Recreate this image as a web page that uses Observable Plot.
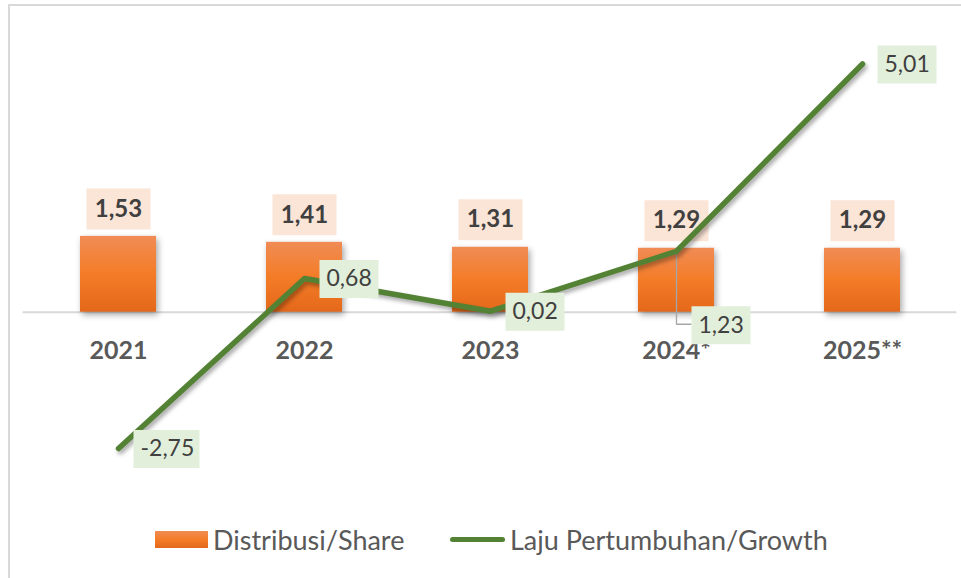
<!DOCTYPE html>
<html>
<head>
<meta charset="utf-8">
<script src="https://cdn.jsdelivr.net/npm/d3@7"></script>
<script src="https://cdn.jsdelivr.net/npm/@observablehq/plot@0.6"></script>
<style>
  body { margin: 0; background: #fff; }
  #wrap { position: relative; width: 961px; height: 578px; overflow: hidden; font-family: Lato, "Open Sans", sans-serif; background: #fff; }
  #frame { position: absolute; left: 8px; top: 4px; width: 1000px; height: 1000px; border-left: 2px solid #d9d9d9; border-top: 2px solid #d9d9d9; }
  #chart { position: absolute; left: 0; top: 0; }
  #chart g[aria-label="bar"] { filter: drop-shadow(2px 3px 3px rgba(0,0,0,0.35)); }
  #chart g[aria-label="line"] { filter: drop-shadow(2px 3px 2px rgba(0,0,0,0.35)); }
  .leg { position: absolute; display: flex; align-items: center; color: #595959; font-size: 27px; line-height: 1; white-space: nowrap; }
  .sw-bar { width: 53px; height: 17px; background: linear-gradient(#f08c55, #f47c27 50%, #e4681a); margin-right: 5px; }
  .sw-line { width: 55px; height: 5px; border-radius: 3px; background: #548235; margin-right: 5px; }
</style>
</head>
<body>
<div id="wrap">
  <div id="frame"></div>
  <div id="chart"></div>
  <div class="leg" id="leg1" style="left:155px; top:525px; height:29px;"><span class="sw-bar"></span><span>Distribusi/Share</span></div>
  <div class="leg" id="leg2" style="left:450px; top:525px; height:29px;"><span class="sw-line"></span><span>Laju Pertumbuhan/Growth</span></div>
</div>
<script>
const years = ["2021", "2022", "2023", "2024*", "2025**"];
const shareValues = [1.53, 1.41, 1.31, 1.29, 1.29];
const growthValues = [-2.75, 0.68, 0.02, 1.23, 5.01];
const leaderYear = "2024*";

const shareData = years.map((year, i) => ({year, value: shareValues[i]}));
const growthData = years.map((year, i) => ({year, value: growthValues[i]}));
const fmt = v => v.toFixed(2).replace(".", ",");

const ns = "http://www.w3.org/2000/svg";
const defs = () => {
  const d = document.createElementNS(ns, "defs");
  d.innerHTML = '<linearGradient id="barGrad" x1="0" x2="0" y1="0" y2="1">' +
    '<stop offset="0" stop-color="#f08c55"/><stop offset="0.5" stop-color="#f47c27"/><stop offset="1" stop-color="#e4681a"/>' +
    '</linearGradient>';
  return d;
};
const box = (x0, y0, w, h) => ({draw(ctx) { ctx.rect(x0, y0, w, h); }});
const leaderCurve = (down, right) => (ctx) => {
  let p = null;
  return {
    areaStart() {}, areaEnd() {},
    lineStart() { p = null; },
    point(x, y) { if (!p) p = [x, y]; },
    lineEnd() { if (p) { ctx.moveTo(p[0], p[1]); ctx.lineTo(p[0], p[1] + down); ctx.lineTo(p[0] + right, p[1] + down); } }
  };
};

const mainGrowth = growthData.filter(d => d.year !== leaderYear);
const leaderGrowth = growthData.filter(d => d.year === leaderYear);
const labelFont = {fontSize: 23, fill: "#404040", textAnchor: "start"};

const chart = Plot.plot({
  width: 961,
  height: 520,
  marginLeft: 22.6,
  marginRight: 4.6,
  marginTop: 14.4,
  marginBottom: 10.1,
  x: {domain: years, paddingInner: 0.593, paddingOuter: 0.2965, axis: null},
  y: {domain: [-4, 6], axis: null},
  style: {fontFamily: "Lato, 'Open Sans', sans-serif", background: "transparent", overflow: "visible"},
  marks: [
    defs,
    Plot.ruleY([0], {stroke: "#d9d9d9", strokeWidth: 2}),
    Plot.barY(shareData, {x: "year", y: "value", fill: "url(#barGrad)"}),
    Plot.dot(shareData, {x: "year", y: "value", dy: -27.5, symbol: box(-32, -20.5, 64, 41), fill: "#fbe5d6"}),
    Plot.text(shareData, {x: "year", y: "value", dy: -27.5, text: d => fmt(d.value), fontWeight: "bold", fontSize: 24, fill: "#404040"}),
    Plot.text(years, {x: d => d, y: () => 0, dy: 38.5, text: d => d, fontWeight: "bold", fontSize: 25, fill: "#595959"}),
    Plot.link(leaderGrowth, {x1: "year", x2: "year", y1: "value", y2: "value", stroke: "#a6a6a6", strokeWidth: 1.3, curve: leaderCurve(73, 15)}),
    Plot.line(growthData, {x: "year", y: "value", stroke: "#548235", strokeWidth: 5.5, strokeLinejoin: "round", strokeLinecap: "round"}),
    Plot.dot(mainGrowth.filter(d => fmt(d.value).length <= 4), {x: "year", y: "value", dy: 0.5, symbol: box(15, -19, 59, 38), fill: "#e2efda"}),
    Plot.dot(mainGrowth.filter(d => fmt(d.value).length > 4), {x: "year", y: "value", dy: 0.5, symbol: box(15, -19, 66, 38), fill: "#e2efda"}),
    Plot.text(mainGrowth, {x: "year", y: "value", dy: 0.5, dx: 22, text: d => fmt(d.value), ...labelFont}),
    Plot.dot(leaderGrowth, {x: "year", y: "value", dy: 74, symbol: box(15, -19, 59, 38), fill: "#e2efda"}),
    Plot.text(leaderGrowth, {x: "year", y: "value", dy: 74, dx: 22, text: d => fmt(d.value), ...labelFont})
  ]
});
document.getElementById("chart").appendChild(chart);
</script>
</body>
</html>
